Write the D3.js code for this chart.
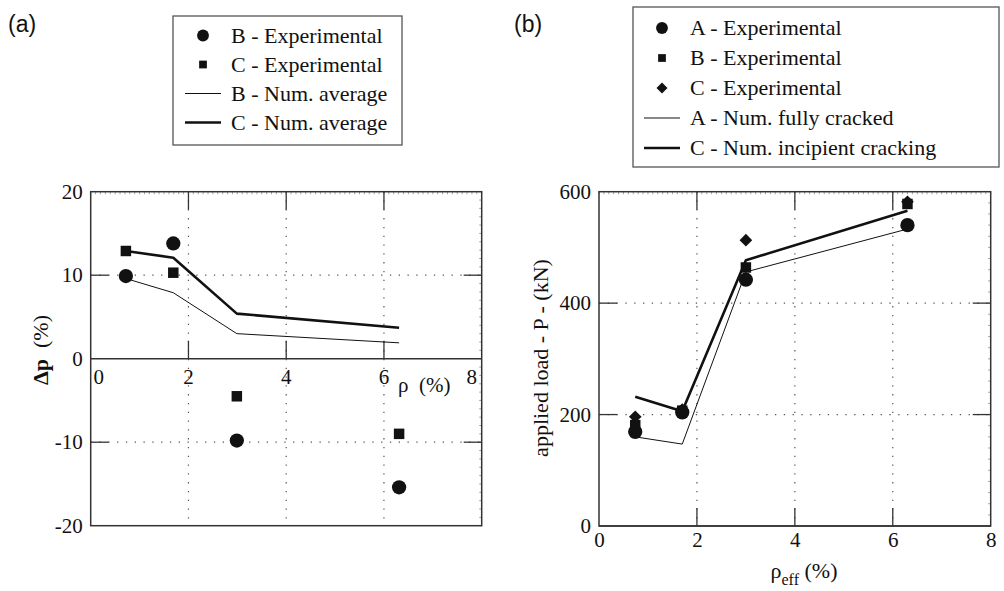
<!DOCTYPE html>
<html>
<head>
<meta charset="utf-8">
<script src="https://cdn.jsdelivr.net/npm/d3@7"></script>
<style>
  html, body { margin: 0; padding: 0; background: #fff; }
  svg text { font-family: "Liberation Serif", "Times New Roman", serif; fill: #111; }
  svg text.panel-tag { font-family: "Liberation Sans", Arial, sans-serif; }
</style>
</head>
<body>
<svg id="chart" width="1004" height="591"></svg>
<script>
(function(d3) {
  'use strict';

  // ---- data ----
  var rhoA = [0.72, 1.69, 2.99, 6.31];          // panel (a) x, rho (%)
  var bExpDelta = [9.9, 13.8, -9.8, -15.4];
  var cExpDelta = [12.9, 10.3, -4.5, -9.0];
  var bNumDelta = [9.6, 7.9, 3.0, 1.9];
  var cNumDelta = [12.9, 12.1, 5.4, 3.7];

  var rhoB = [0.74, 1.70, 3.0, 6.3];            // panel (b) x, rho_eff (%)
  var aExpLoad = [169, 204, 442, 540];
  var bExpLoad = [181, 207, 464, 578];
  var cExpLoad = [196, 209, 513, 582];
  var aNumLoad = [160, 147, 456, 533];
  var cNumLoad = [232, 206, 477, 566];

  var xTicks = [0, 2, 4, 6, 8];
  var yTicksA = [-20, -10, 0, 10, 20];
  var yTicksB = [0, 200, 400, 600];

  var legendA = ['B - Experimental', 'C - Experimental', 'B - Num. average', 'C - Num. average'];
  var legendB = ['A - Experimental', 'B - Experimental', 'C - Experimental',
                 'A - Num. fully cracked', 'C - Num. incipient cracking'];

  var svg = d3.select('#chart');
  var ink = '#111';
  var frameCol = '#333';
  var tickLen = 18;
  var fmt = function(d) { return String(d); };   // plain hyphen minus, like the original

  var circle = d3.symbol().type(d3.symbolCircle);
  var square = d3.symbol().type(d3.symbolSquare);

  function pts(xs, ys) {
    return xs.map(function(x, i) { return [x, ys[i]]; });
  }

  // shared frame/grid/ticks for one panel
  function drawFrame(g, x, y, opts) {
    var x0 = x.range()[0], x1 = x.range()[1];
    var yB = y.range()[0], yT = y.range()[1];

    // dotted grid
    g.selectAll('.vgrid').data(opts.vgrid).enter().append('line')
      .attr('x1', function(d) { return x(d); }).attr('x2', function(d) { return x(d); })
      .attr('y1', yT).attr('y2', yB)
      .attr('stroke', '#555').attr('stroke-width', 1.2)
      .attr('stroke-dasharray', '1.3,7.5');
    g.selectAll('.hgrid').data(opts.hgrid).enter().append('line')
      .attr('x1', x0).attr('x2', x1)
      .attr('y1', function(d) { return y(d); }).attr('y2', function(d) { return y(d); })
      .attr('stroke', '#555').attr('stroke-width', 1.2)
      .attr('stroke-dasharray', '1.3,7.5');

    // minor ticks on the frame
    var minorX = d3.range(x.domain()[0], x.domain()[1] + 1e-9, 0.1);
    g.selectAll('.minx').data(minorX).enter().append('line')
      .attr('x1', function(d) { return x(d); }).attr('x2', function(d) { return x(d); })
      .attr('y1', yT).attr('y2', yT + 2.5)
      .attr('stroke', '#888').attr('stroke-width', 0.8);
    var minorY = d3.range(y.domain()[0], y.domain()[1] + 1e-9, opts.minorY);
    g.selectAll('.miny').data(minorY).enter().append('line')
      .attr('x1', x1).attr('x2', x1 - 2.5)
      .attr('y1', function(d) { return y(d); }).attr('y2', function(d) { return y(d); })
      .attr('stroke', '#888').attr('stroke-width', 0.8);

    // major ticks, inward
    var axisY = y(opts.xAxisAt);
    g.selectAll('.tkb').data(opts.vgrid).enter().append('line')
      .attr('x1', function(d) { return x(d); }).attr('x2', function(d) { return x(d); })
      .attr('y1', axisY).attr('y2', axisY - tickLen)
      .attr('stroke', frameCol).attr('stroke-width', 1.3);
    g.selectAll('.tkt').data(opts.vgrid).enter().append('line')
      .attr('x1', function(d) { return x(d); }).attr('x2', function(d) { return x(d); })
      .attr('y1', yT).attr('y2', yT + tickLen)
      .attr('stroke', frameCol).attr('stroke-width', 1.3);
    g.selectAll('.tkl').data(opts.hgrid).enter().append('line')
      .attr('x1', x0).attr('x2', x0 + tickLen)
      .attr('y1', function(d) { return y(d); }).attr('y2', function(d) { return y(d); })
      .attr('stroke', frameCol).attr('stroke-width', 1.3);
    g.selectAll('.tkr').data(opts.hgrid).enter().append('line')
      .attr('x1', x1).attr('x2', x1 - tickLen)
      .attr('y1', function(d) { return y(d); }).attr('y2', function(d) { return y(d); })
      .attr('stroke', frameCol).attr('stroke-width', 1.3);

    // frame + x axis line
    g.append('rect')
      .attr('x', x0).attr('y', yT)
      .attr('width', x1 - x0).attr('height', yB - yT)
      .attr('fill', 'none').attr('stroke', frameCol).attr('stroke-width', 1.5);
    g.append('line')
      .attr('x1', x0).attr('x2', x1).attr('y1', axisY).attr('y2', axisY)
      .attr('stroke', frameCol).attr('stroke-width', 1.5);

    // y tick labels via d3 axis
    var ya = g.append('g')
      .attr('transform', 'translate(' + (x0 - 8) + ',0)')
      .call(d3.axisLeft(y).tickValues(opts.yTicks).tickFormat(fmt).tickSize(0).tickPadding(0));
    ya.attr('font-family', null).attr('font-size', null);
    ya.select('.domain').remove();
    ya.selectAll('text')
      .attr('font-size', 21).attr('fill', ink).attr('dy', '0.32em');
  }

  function drawSeries(g, x, y, lines, markers) {
    var line = d3.line()
      .x(function(d) { return x(d[0]); })
      .y(function(d) { return y(d[1]); });

    lines.forEach(function(l) {
      g.append('path')
        .attr('d', line(l.pts))
        .attr('fill', 'none')
        .attr('stroke', ink)
        .attr('stroke-width', l.w)
        .attr('stroke-linejoin', 'round');
    });

    markers.forEach(function(m) {
      g.selectAll(null).data(m.pts).enter().append('path')
        .attr('d', m.shape.size(m.size)())
        .attr('transform', function(d) {
          return 'translate(' + x(d[0]) + ',' + y(d[1]) + ')' + (m.rot ? ' rotate(45)' : '');
        })
        .attr('fill', ink);
    });
  }

  function drawLegend(g, box, labels, kinds) {
    g.append('rect')
      .attr('x', box.x).attr('y', box.y)
      .attr('width', box.w).attr('height', box.h)
      .attr('fill', '#fff').attr('stroke', '#555').attr('stroke-width', 1.3);

    var row = g.selectAll('.row').data(labels).enter().append('g')
      .attr('transform', function(d, i) {
        return 'translate(0,' + (box.y + box.first + i * box.step) + ')';
      });

    row.append('text')
      .attr('x', box.textX)
      .attr('y', 7)
      .attr('font-size', 22)
      .text(function(d) { return d; });

    row.each(function(d, i) {
      var k = kinds[i];
      var r = d3.select(this);
      if (k.line) {
        r.append('line')
          .attr('x1', box.symX - 18).attr('x2', box.symX + 18)
          .attr('y1', 0).attr('y2', 0)
          .attr('stroke', ink).attr('stroke-width', k.line);
      } else {
        r.append('path')
          .attr('d', k.shape.size(k.size)())
          .attr('transform', 'translate(' + box.symX + ',0)' + (k.rot ? ' rotate(45)' : ''))
          .attr('fill', ink);
      }
    });
  }

  // ================= panel (a) =================
  var gA = svg.append('g');
  var xA = d3.scaleLinear().domain([0, 8]).range([90.7, 481.7]);
  var yA = d3.scaleLinear().domain([-20, 20]).range([525.7, 191.7]);

  drawFrame(gA, xA, yA, {
    vgrid: [2, 4, 6], hgrid: [-10, 10], yTicks: yTicksA, xAxisAt: 0, minorY: 1
  });

  // x tick labels inside the plot, below the zero line
  gA.selectAll('.xl').data(xTicks).enter().append('text')
    .attr('x', function(d) { return xA(d) + (d === 0 ? 8 : d === 8 ? -10 : 0); })
    .attr('y', yA(0) + 25)
    .attr('text-anchor', 'middle')
    .attr('font-size', 21)
    .text(fmt);

  gA.append('text')
    .attr('x', 398).attr('y', 392)
    .attr('font-size', 21)
    .attr('xml:space', 'preserve')
    .text('\u03c1  (%)');

  drawSeries(gA, xA, yA, [
    { pts: pts(rhoA, bNumDelta), w: 1 },
    { pts: pts(rhoA, cNumDelta), w: 2.6 }
  ], [
    { pts: pts(rhoA, bExpDelta), shape: circle, size: 160 },
    { pts: pts(rhoA, cExpDelta), shape: square, size: 110 }
  ]);

  var labA = gA.append('text')
    .attr('transform', 'translate(48,350) rotate(-90)')
    .attr('text-anchor', 'middle')
    .attr('font-size', 22)
    .attr('xml:space', 'preserve');
  labA.append('tspan').attr('font-weight', 'bold').text('\u0394p');
  labA.append('tspan').text('  (%)');

  gA.append('text').attr('class', 'panel-tag')
    .attr('x', 8).attr('y', 32)
    .attr('font-size', 23)
    .text('(a)');

  drawLegend(gA,
    { x: 173, y: 16, w: 229, h: 129, first: 19.5, step: 29, symX: 203, textX: 231 },
    legendA,
    [ { shape: circle, size: 110 }, { shape: square, size: 60 }, { line: 1 }, { line: 2.6 } ]);

  // ================= panel (b) =================
  var gB = svg.append('g');
  var xB = d3.scaleLinear().domain([0, 8]).range([599, 990.7]);
  var yB = d3.scaleLinear().domain([0, 600]).range([526, 191.7]);

  drawFrame(gB, xB, yB, {
    vgrid: [2, 4, 6], hgrid: [200, 400], yTicks: yTicksB, xAxisAt: 0, minorY: 20
  });

  var xa = gB.append('g')
    .attr('transform', 'translate(0,' + (yB(0) + 6) + ')')
    .call(d3.axisBottom(xB).tickValues(xTicks).tickFormat(fmt).tickSize(0).tickPadding(0));
  xa.attr('font-family', null).attr('font-size', null);
  xa.select('.domain').remove();
  xa.selectAll('text')
    .attr('font-size', 21).attr('fill', ink).attr('dy', '0.71em');

  drawSeries(gB, xB, yB, [
    { pts: pts(rhoB, aNumLoad), w: 1 },
    { pts: pts(rhoB, cNumLoad), w: 2.6 }
  ], [
    { pts: pts(rhoB, cExpLoad), shape: square, size: 80, rot: true },
    { pts: pts(rhoB, bExpLoad), shape: square, size: 110 },
    { pts: pts(rhoB, aExpLoad), shape: circle, size: 160 }
  ]);

  gB.append('text')
    .attr('transform', 'translate(548,358) rotate(-90)')
    .attr('text-anchor', 'middle')
    .attr('font-size', 22)
    .text('applied load - P - (kN)');

  var xlab = gB.append('text')
    .attr('x', 804).attr('y', 578)
    .attr('text-anchor', 'middle')
    .attr('font-size', 22);
  xlab.append('tspan').text('\u03c1');
  xlab.append('tspan').attr('font-size', 16).attr('dy', 7).text('eff');
  xlab.append('tspan').attr('dy', -7).text(' (%)');

  gB.append('text').attr('class', 'panel-tag')
    .attr('x', 514).attr('y', 32)
    .attr('font-size', 23)
    .text('(b)');

  drawLegend(gB,
    { x: 633, y: 7, w: 366, h: 160, first: 21, step: 30, symX: 662, textX: 690 },
    legendB,
    [ { shape: circle, size: 110 }, { shape: square, size: 60 },
      { shape: square, size: 60, rot: true }, { line: 1 }, { line: 2.6 } ]);

}(d3));
</script>
</body>
</html>
